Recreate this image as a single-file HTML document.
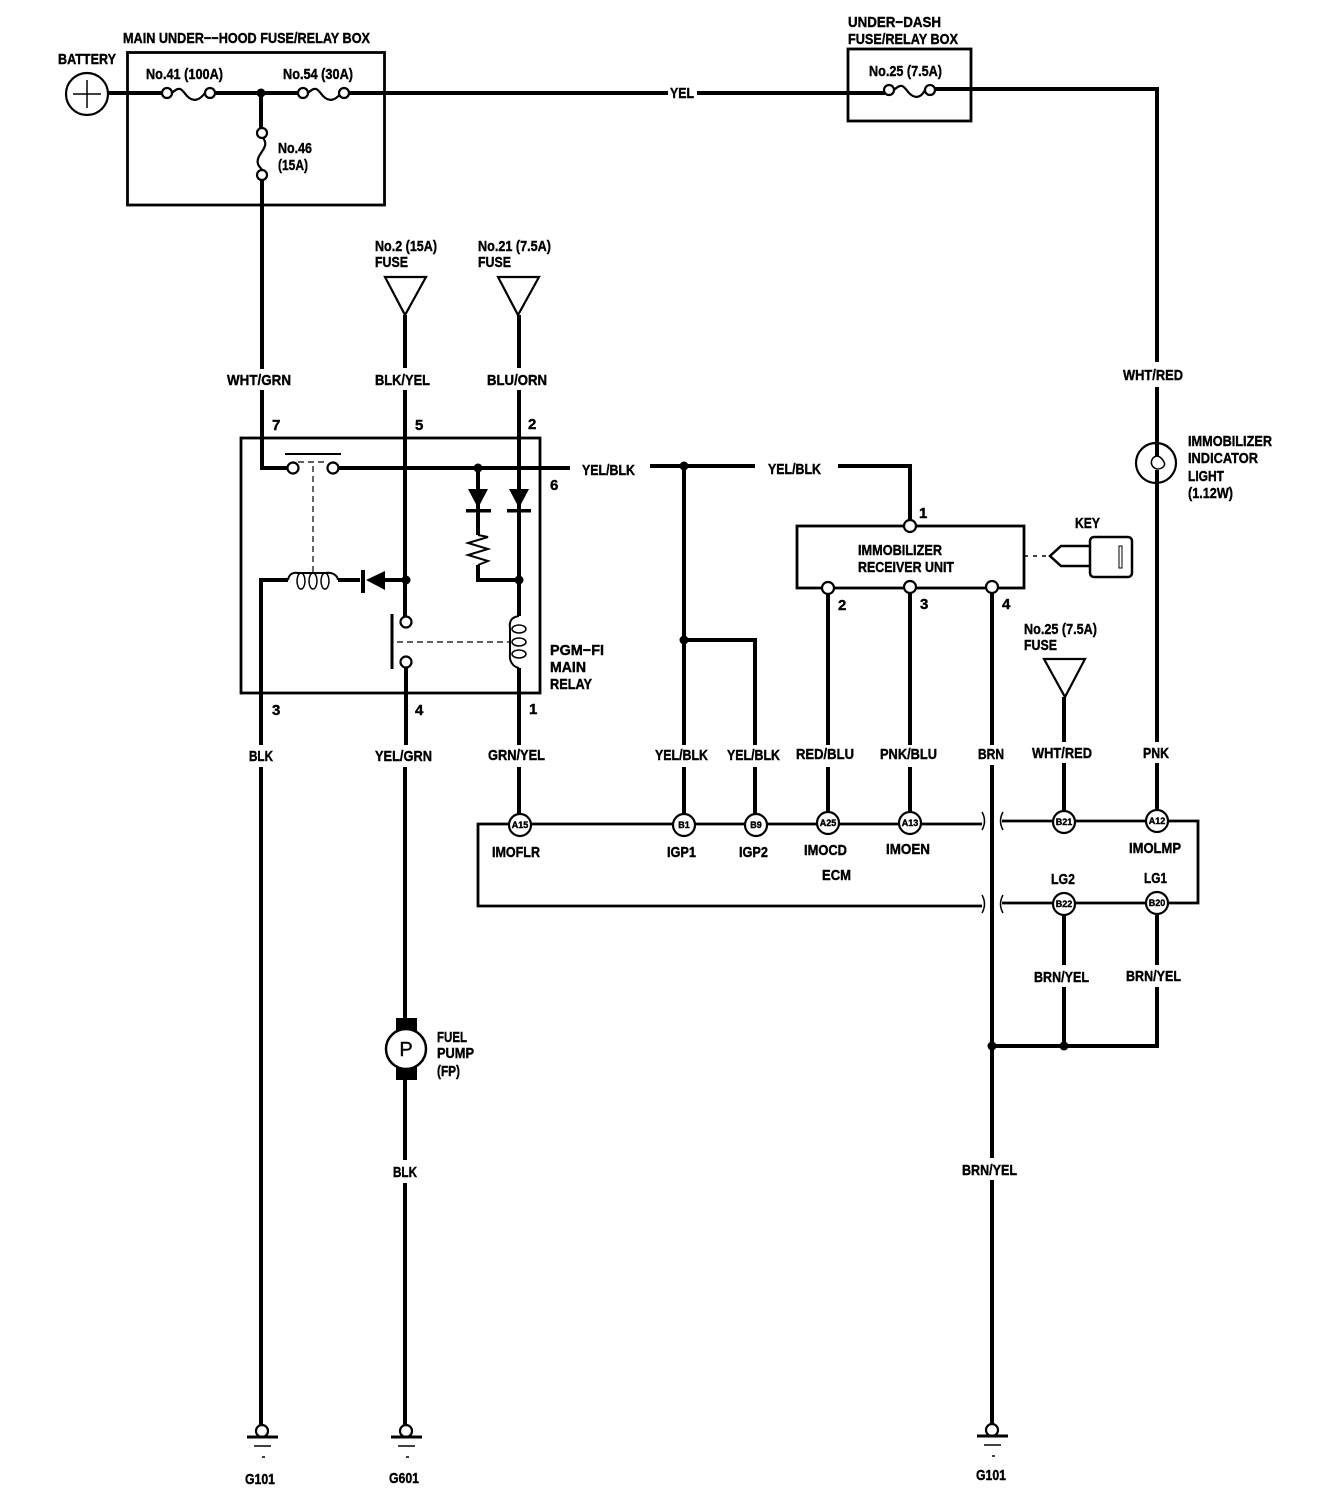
<!DOCTYPE html>
<html><head><meta charset="utf-8"><style>
html,body{margin:0;padding:0;background:#fff}
svg{display:block}
text{font-family:"Liberation Sans",sans-serif;font-weight:bold;font-size:15px;fill:#000;stroke:#000;stroke-width:.4}
.s{font-size:9px}
</style></head><body>
<svg width="1328" height="1508" viewBox="0 0 1328 1508" xmlns="http://www.w3.org/2000/svg">
<g fill="none" stroke="#000" stroke-width="2.800">
<rect x="127.500" y="52.500" width="257" height="152.500"/>
<rect x="848" y="49" width="123" height="72"/>
<rect x="241" y="438" width="299" height="255"/>
<rect x="797" y="526" width="227" height="62"/>
<path d="M982 824H478V906H982M1002 821H1198V903H1002" />
<path d="M982 812q5 9 0 18M1003 812q-5 9 0 18M982 895q5 9 0 18M1003 895q-5 9 0 18" stroke-width="1.500"/>
</g>
<g fill="none" stroke="#000" stroke-width="4">
<path d="M108 93H163M216 93H298M349 93H668M697 93H885M935 89H1157V362M1157 387V456"/>
<path d="M261 93V128M262 180V369M262 390V468H288M338 468H570M650 466H755M838 466H910V520"/>
<path d="M261 745V580H288M338 580H360M385 580H406M405 315V368M405 390V616M406 668V745"/>
<path d="M519 315V368M519 390V616M519 668V745M478 468V535M478 565V580H519"/>
<path d="M684 466V745M684 640H755V745M828 594V745M910 593V745M992 593V745M1064 697V742"/>
<path d="M1157 470V742M261 767V1425M405 767V1018M405 1080V1160M405 1183V1425M519 767V814M684 767V814M755 767V814M828 767V812M910 767V812M992 765V1158M992 1180V1425"/>
<path d="M1064 763V811M1157 763V810M1064 915V965M1064 987V1046M1157 915V965M1157 987V1046H992"/>
</g>
<g fill="none" stroke="#000" stroke-width="2.200">
<circle cx="87" cy="94" r="21"/>
<path d="M87 80V108M73 94H101" stroke-width="1.500"/>
<path d="M172 93c8-8 10-3 15 3c6 6 12 5 18-3M308 93c8-8 10-3 15 3c6 6 12 5 18-3M894 90c8-8 10-3 15 3c6 6 12 5 16-3M263 138c8 10-8 16-5 26c1 3 4 5 4 6"/>
<circle cx="167" cy="93" r="5" fill="#fff"/><circle cx="210" cy="93" r="5" fill="#fff"/>
<circle cx="303" cy="93" r="5" fill="#fff"/><circle cx="344" cy="93" r="5" fill="#fff"/>
<circle cx="889" cy="90" r="5" fill="#fff"/><circle cx="930" cy="90" r="5" fill="#fff"/>
<circle cx="262" cy="133" r="5" fill="#fff"/><circle cx="262" cy="175" r="5" fill="#fff"/>
<path d="M385 277H426L405 315ZM498 277H539L518 315ZM1044 659H1085L1065 697Z"/>
<circle cx="1156" cy="463" r="20"/>
<path d="M1157 456c-7 1-8 11 0 13c5 0 9-3 7-7c-2-4-5-6-7-6z" stroke-width="1.500"/>
<path d="M285 454H341" stroke-width="2"/>
<circle cx="293" cy="468" r="5.500" fill="#fff"/><circle cx="333" cy="468" r="5.500" fill="#fff"/>
<path d="M288 580c1-6 5-8 10-7h27c6-1 12 1 13 7" stroke-width="2"/>
<ellipse cx="301" cy="581" rx="4" ry="8" stroke-width="1.500"/><ellipse cx="313" cy="581" rx="4" ry="8" stroke-width="1.500"/><ellipse cx="325" cy="581" rx="4" ry="8" stroke-width="1.500"/>
<circle cx="406" cy="622" r="5.500" fill="#fff"/><circle cx="406" cy="662" r="5.500" fill="#fff"/>
<path d="M392 614V669" stroke-width="3"/>
<path d="M519 616c-8 1-10 6-9 12v26c-1 7 3 13 9 14" stroke-width="2"/>
<ellipse cx="519" cy="629" rx="7" ry="4" stroke-width="1.500"/><ellipse cx="519" cy="642" rx="7" ry="4" stroke-width="1.500"/><ellipse cx="519" cy="654" rx="7" ry="4" stroke-width="1.500"/>
<path d="M478 535L488 537L468 543L488 549L468 555L488 561L478 565" stroke-width="2"/>
<path d="M313 466V572M298 462H328M397 642H510" stroke-width="1.200" stroke-dasharray="6 4"/>
<path d="M1024 556H1050" stroke-width="1.500" stroke-dasharray="4 5"/>
<path d="M1090 546H1061L1050 556L1061 566H1090" stroke-width="2.500"/>
<rect x="1090" y="537" width="42" height="40" rx="4" stroke-width="2.500"/>
<rect x="1119" y="546" width="3" height="22" stroke-width="1"/>
<circle cx="828" cy="588" r="6" fill="#fff"/><circle cx="910" cy="587" r="6" fill="#fff"/><circle cx="992" cy="587" r="6" fill="#fff"/><circle cx="910" cy="526" r="6" fill="#fff"/>
<g fill="#fff"><circle cx="520" cy="825" r="11"/><circle cx="684" cy="825" r="11"/><circle cx="756" cy="825" r="11"/><circle cx="828" cy="823" r="11"/><circle cx="910" cy="823" r="11"/><circle cx="1064" cy="822" r="11"/><circle cx="1157" cy="821" r="11"/><circle cx="1064" cy="904" r="11"/><circle cx="1157" cy="903" r="11"/></g>
<circle cx="262" cy="1431" r="6" fill="#fff"/><circle cx="406" cy="1431" r="6" fill="#fff"/><circle cx="992" cy="1430" r="6" fill="#fff"/>
<path d="M247 1437H278M391 1437H422M977 1436H1008" stroke-width="3"/>
<path d="M254 1446H271M262 1457H265M398 1446H415M406 1457H409M984 1445H1001M992 1456H995" stroke-width="1.500"/>
</g>
<g fill="#000">
<circle cx="261" cy="93" r="4.500"/><circle cx="478" cy="468" r="4.500"/><circle cx="684" cy="466" r="4.500"/><circle cx="684" cy="640" r="4.500"/>
<circle cx="406" cy="580" r="4.500"/><circle cx="519" cy="580" r="4.500"/><circle cx="992" cy="1046" r="4.500"/><circle cx="1064" cy="1046" r="4.500"/>
<path d="M468 489H488L478 508ZM509 489H529L519 508ZM385 571V590L366 580Z"/>
<rect x="466" y="509" width="25" height="3.500"/><rect x="507" y="509" width="24" height="3.500"/><rect x="361" y="570" width="4" height="23"/>
<rect x="396" y="1018" width="21" height="62"/>
</g>
<circle cx="406" cy="1049" r="20" fill="#fff" stroke="#000" stroke-width="2.500"/>
<text x="406" y="1056" text-anchor="middle" style="font-size:20px;font-weight:normal">P</text>
<text x="123" y="43" textLength="247" lengthAdjust="spacingAndGlyphs">MAIN UNDER−−HOOD FUSE/RELAY BOX</text>
<text x="58" y="64" textLength="58" lengthAdjust="spacingAndGlyphs">BATTERY</text>
<text x="146" y="79" textLength="77" lengthAdjust="spacingAndGlyphs">No.41 (100A)</text>
<text x="283" y="79" textLength="70" lengthAdjust="spacingAndGlyphs">No.54 (30A)</text>
<text x="278" y="153" textLength="34" lengthAdjust="spacingAndGlyphs">No.46</text>
<text x="278" y="170" textLength="30" lengthAdjust="spacingAndGlyphs">(15A)</text>
<text x="848" y="27" textLength="93" lengthAdjust="spacingAndGlyphs">UNDER−DASH</text>
<text x="848" y="44" textLength="110" lengthAdjust="spacingAndGlyphs">FUSE/RELAY BOX</text>
<text x="869" y="76" textLength="73" lengthAdjust="spacingAndGlyphs">No.25 (7.5A)</text>
<text x="670" y="98" textLength="24" lengthAdjust="spacingAndGlyphs">YEL</text>
<text x="375" y="251" textLength="62" lengthAdjust="spacingAndGlyphs">No.2 (15A)</text>
<text x="375" y="267" textLength="33" lengthAdjust="spacingAndGlyphs">FUSE</text>
<text x="478" y="251" textLength="73" lengthAdjust="spacingAndGlyphs">No.21 (7.5A)</text>
<text x="478" y="267" textLength="33" lengthAdjust="spacingAndGlyphs">FUSE</text>
<text x="227" y="385" textLength="64" lengthAdjust="spacingAndGlyphs">WHT/GRN</text>
<text x="375" y="385" textLength="55" lengthAdjust="spacingAndGlyphs">BLK/YEL</text>
<text x="487" y="385" textLength="60" lengthAdjust="spacingAndGlyphs">BLU/ORN</text>
<text x="1123" y="380" textLength="60" lengthAdjust="spacingAndGlyphs">WHT/RED</text>
<text x="272" y="430">7</text><text x="415" y="430">5</text><text x="528" y="429">2</text><text x="550" y="490">6</text>
<text x="272" y="715">3</text><text x="415" y="715">4</text><text x="529" y="714">1</text>
<text x="919" y="518">1</text><text x="838" y="610">2</text><text x="920" y="609">3</text><text x="1002" y="609">4</text>
<text x="582" y="475" textLength="53" lengthAdjust="spacingAndGlyphs">YEL/BLK</text>
<text x="768" y="474" textLength="53" lengthAdjust="spacingAndGlyphs">YEL/BLK</text>
<text x="1188" y="446" textLength="84" lengthAdjust="spacingAndGlyphs">IMMOBILIZER</text>
<text x="1188" y="463" textLength="70" lengthAdjust="spacingAndGlyphs">INDICATOR</text>
<text x="1188" y="481" textLength="36" lengthAdjust="spacingAndGlyphs">LIGHT</text>
<text x="1188" y="498" textLength="45" lengthAdjust="spacingAndGlyphs">(1.12W)</text>
<text x="1075" y="528" textLength="25" lengthAdjust="spacingAndGlyphs">KEY</text>
<text x="858" y="555" textLength="84" lengthAdjust="spacingAndGlyphs">IMMOBILIZER</text>
<text x="858" y="572" textLength="96" lengthAdjust="spacingAndGlyphs">RECEIVER UNIT</text>
<text x="550" y="655" textLength="54" lengthAdjust="spacingAndGlyphs">PGM−FI</text>
<text x="550" y="672" textLength="36" lengthAdjust="spacingAndGlyphs">MAIN</text>
<text x="550" y="689" textLength="42" lengthAdjust="spacingAndGlyphs">RELAY</text>
<text x="1024" y="634" textLength="73" lengthAdjust="spacingAndGlyphs">No.25 (7.5A)</text>
<text x="1024" y="650" textLength="33" lengthAdjust="spacingAndGlyphs">FUSE</text>
<text x="249" y="761" textLength="24" lengthAdjust="spacingAndGlyphs">BLK</text>
<text x="375" y="761" textLength="57" lengthAdjust="spacingAndGlyphs">YEL/GRN</text>
<text x="488" y="760" textLength="57" lengthAdjust="spacingAndGlyphs">GRN/YEL</text>
<text x="655" y="760" textLength="53" lengthAdjust="spacingAndGlyphs">YEL/BLK</text>
<text x="727" y="760" textLength="53" lengthAdjust="spacingAndGlyphs">YEL/BLK</text>
<text x="796" y="759" textLength="58" lengthAdjust="spacingAndGlyphs">RED/BLU</text>
<text x="880" y="759" textLength="57" lengthAdjust="spacingAndGlyphs">PNK/BLU</text>
<text x="978" y="759" textLength="26" lengthAdjust="spacingAndGlyphs">BRN</text>
<text x="1032" y="758" textLength="60" lengthAdjust="spacingAndGlyphs">WHT/RED</text>
<text x="1143" y="758" textLength="26" lengthAdjust="spacingAndGlyphs">PNK</text>
<text class="s" x="520" y="828" text-anchor="middle">A15</text>
<text class="s" x="684" y="828" text-anchor="middle">B1</text>
<text class="s" x="756" y="828" text-anchor="middle">B9</text>
<text class="s" x="828" y="826" text-anchor="middle">A25</text>
<text class="s" x="910" y="826" text-anchor="middle">A13</text>
<text class="s" x="1064" y="825" text-anchor="middle">B21</text>
<text class="s" x="1157" y="824" text-anchor="middle">A12</text>
<text class="s" x="1064" y="907" text-anchor="middle">B22</text>
<text class="s" x="1157" y="906" text-anchor="middle">B20</text>
<text x="492" y="857" textLength="48" lengthAdjust="spacingAndGlyphs">IMOFLR</text>
<text x="667" y="857" textLength="29" lengthAdjust="spacingAndGlyphs">IGP1</text>
<text x="739" y="857" textLength="29" lengthAdjust="spacingAndGlyphs">IGP2</text>
<text x="804" y="855" textLength="43" lengthAdjust="spacingAndGlyphs">IMOCD</text>
<text x="886" y="854" textLength="44" lengthAdjust="spacingAndGlyphs">IMOEN</text>
<text x="822" y="880" textLength="29" lengthAdjust="spacingAndGlyphs">ECM</text>
<text x="1129" y="853" textLength="52" lengthAdjust="spacingAndGlyphs">IMOLMP</text>
<text x="1051" y="884" textLength="24" lengthAdjust="spacingAndGlyphs">LG2</text>
<text x="1144" y="883" textLength="23" lengthAdjust="spacingAndGlyphs">LG1</text>
<text x="1034" y="982" textLength="55" lengthAdjust="spacingAndGlyphs">BRN/YEL</text>
<text x="1126" y="981" textLength="55" lengthAdjust="spacingAndGlyphs">BRN/YEL</text>
<text x="437" y="1042" textLength="30" lengthAdjust="spacingAndGlyphs">FUEL</text>
<text x="437" y="1058" textLength="37" lengthAdjust="spacingAndGlyphs">PUMP</text>
<text x="437" y="1076" textLength="23" lengthAdjust="spacingAndGlyphs">(FP)</text>
<text x="393" y="1177" textLength="24" lengthAdjust="spacingAndGlyphs">BLK</text>
<text x="962" y="1175" textLength="55" lengthAdjust="spacingAndGlyphs">BRN/YEL</text>
<text x="245" y="1484" textLength="30" lengthAdjust="spacingAndGlyphs">G101</text>
<text x="389" y="1483" textLength="30" lengthAdjust="spacingAndGlyphs">G601</text>
<text x="976" y="1480" textLength="30" lengthAdjust="spacingAndGlyphs">G101</text>
</svg>
</body></html>
